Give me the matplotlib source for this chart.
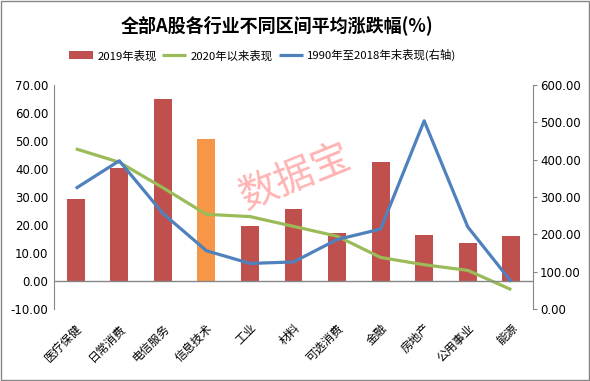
import matplotlib
matplotlib.use("Agg")
import matplotlib.pyplot as plt
from matplotlib.patches import Rectangle
import numpy as np

plt.rcParams['font.family'] = ['Noto Sans CJK SC', 'DejaVu Sans']

CATEGORIES = ["医疗保健", "日常消费", "电信服务", "信息技术", "工业", "材料",
              "可选消费", "金融", "房地产", "公用事业", "能源"]
PERF_2019 = [29.4, 40.5, 65.1, 50.8, 19.7, 25.8, 17.2, 42.6, 16.5, 13.7, 16.2]
PERF_2020 = [47.2, 42.4, 33.3, 23.8, 23.0, 19.5, 16.0, 8.4, 5.8, 3.8, -3.1]
PERF_1990_2018 = [323, 397, 256, 156, 122, 126, 186, 214, 504, 220, 73]
HIGHLIGHT = "信息技术"

RED, ORANGE, GREEN, BLUE, GRAY = "#C0504D", "#F79646", "#9BBB59", "#4F81BD", "#868686"

fig = plt.figure(figsize=(5.9, 3.81), dpi=100)
ax = fig.add_axes([0.0915, 0.189, 0.812, 0.588])
ax2 = ax.twinx()

x = np.arange(len(CATEGORIES))
colors = [ORANGE if c == HIGHLIGHT else RED for c in CATEGORIES]
bars = ax.bar(x, PERF_2019, width=0.41, color=colors, zorder=2)
ln1, = ax.plot(x, PERF_2020, color=GREEN, lw=2.3, zorder=3, solid_capstyle="butt")
ln2, = ax2.plot(x, PERF_1990_2018, color=BLUE, lw=2.3, zorder=3, solid_capstyle="butt")

ax.set_xlim(-0.5, len(CATEGORIES) - 0.5)
ax.set_ylim(-10, 70)
ax.set_yticks(np.arange(-10, 71, 10))
ax.set_yticklabels([f"{v:.2f}" for v in np.arange(-10, 71, 10)], fontsize=8.5,
                   family="DejaVu Sans")
ax2.set_ylim(0, 600)
ax2.set_yticks(np.arange(0, 601, 100))
ax2.set_yticklabels([f"{v:.2f}" for v in np.arange(0, 601, 100)], fontsize=8.5,
                    family="DejaVu Sans")

ax.axhline(0, color=GRAY, lw=1, zorder=4)
for a in (ax, ax2):
    a.spines["top"].set_visible(False)
    a.spines["bottom"].set_visible(False)
    a.spines["left"].set_color(GRAY)
    a.spines["right"].set_color(GRAY)
ax.spines["right"].set_visible(False)
ax2.spines["left"].set_visible(False)
ax.tick_params(axis="y", length=0, pad=4)
ax.tick_params(axis="x", length=0, pad=9)
ax2.tick_params(axis="y", length=3, color=GRAY, pad=2)

ax.set_xticks(x)
ax.set_xticklabels(CATEGORIES, rotation=45, ha="right", rotation_mode="anchor", fontsize=8.5)

fig.text(0.47, 0.935, "全部A股各行业不同区间平均涨跌幅(%)", ha="center", va="center",
         fontsize=13, fontweight="bold")
fig.legend([bars, ln1, ln2], ["2019年表现", "2020年以来表现", "1990年至2018年末表现(右轴)"],
           loc="center", bbox_to_anchor=(0.445, 0.855), ncol=3, frameon=False,
           fontsize=8.2, handlelength=2.1, handletextpad=0.4, columnspacing=0.5)

fig.text(0.50, 0.535, "数据宝", fontsize=28, color="#FF8080", alpha=0.6, rotation=22,
         ha="center", va="center", zorder=10)

fig.patches.append(Rectangle((0.001, 0.002), 0.997, 0.996, transform=fig.transFigure,
                             fill=False, edgecolor=GRAY, lw=1))

fig.savefig("out.png", dpi=100)
